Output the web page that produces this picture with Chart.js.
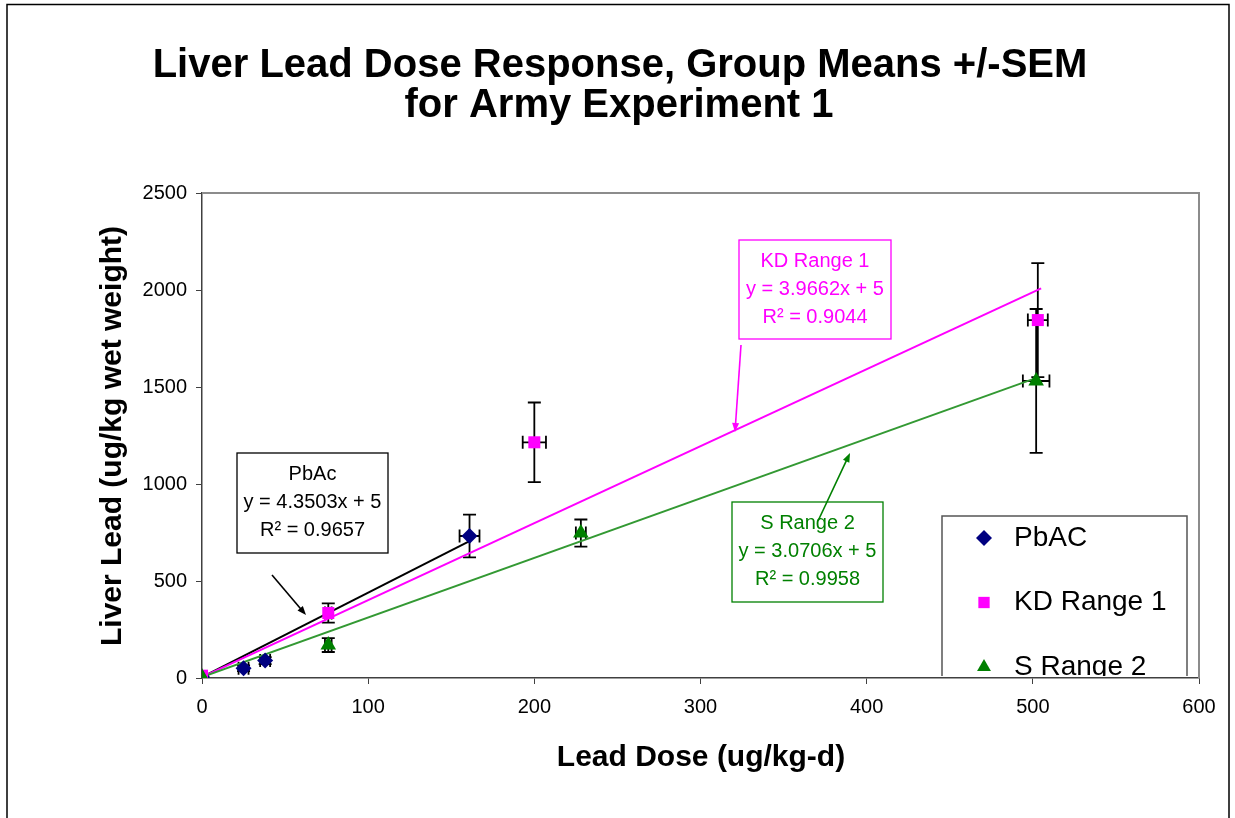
<!DOCTYPE html>
<html>
<head>
<meta charset="utf-8">
<title>Liver Lead Dose Response</title>
<script src="https://cdn.jsdelivr.net/npm/chart.js"></script>
<style>
body{margin:0;background:#fff}
#wrap{width:1235px;height:818px;position:relative}
</style>
</head>
<body>
<div id="wrap"><canvas id="doseChart"></canvas></div>
<script>

const FONT = '"Liberation Sans", Arial, Helvetica, sans-serif'

// PbAC group means +/- SEM
const pbDose = [0, 25, 38, 161]
const pbLead = [5, 50, 90, 732]
const pbLeadSem = [3, 15, 18, 110]
const pbDoseSem = [0, 3, 3, 6]

// KD Range 1
const kdDose = [0, 76, 200, 503]
const kdLead = [12, 335, 1215, 1845]
const kdLeadSem = [5, 50, 205, 294]
const kdDoseSem = [0, 2, 7, 6]

// S Range 2
const sDose = [0, 76, 228, 502]
const sLead = [5, 170, 747, 1531]
const sLeadSem = [3, 36, 70, 371]
const sDoseSem = [0, 2, 3, 8]

// trendlines as printed on the chart
const fitNames = ["PbAc", "KD Range 1", "S Range 2"]
const fitSlope = [4.3503, 3.9662, 3.0706]
const fitIntercept = [5, 5, 5]
const fitR2 = ["0.9657", "0.9044", "0.9958"]
const fitStart = [0, 0, 0]
const fitEnd = [161, 505, 503]

const xTicks = [0, 100, 200, 300, 400, 500, 600]
const yTicks = [0, 500, 1000, 1500, 2000, 2500]

const seriesNames = ["PbAC", "KD Range 1", "S Range 2"]


const groups = [
  {dose: pbDose, lead: pbLead, leadSem: pbLeadSem, doseSem: pbDoseSem},
  {dose: kdDose, lead: kdLead, leadSem: kdLeadSem, doseSem: kdDoseSem},
  {dose: sDose, lead: sLead, leadSem: sLeadSem, doseSem: sDoseSem}
]

const markerColor = ["#000080", "#ff00ff", "#008000"]
const markerStyle = ["rectRot", "rect", "triangle"]
const markerRadius = [8, 8.5, 9]
const lineColor = ["#000000", "#ff00ff", "#339933"]
const textColor = ["#000000", "#ff00ff", "#008000"]
const arrowColor = ["#000000", "#ff00ff", "#008000"]

// text boxes with their arrows (canvas pixels)
const boxes = [
  {x: 237, y: 453, w: 151, h: 100, from: [272, 575], to: [306, 615]},
  {x: 739, y: 240, w: 152, h: 99, from: [741, 345], to: [735, 432]},
  {x: 732, y: 502, w: 151, h: 100, from: [818, 521], to: [850, 453]}
]


const datasets = []

// later series sit on top of earlier ones, all markers above the fit lines
groups.forEach((g, i) => {
  datasets.push({
    label: seriesNames[i],
    data: g.dose.map((d, j) => ({x: d, y: g.lead[j]})),
    showLine: false,
    pointStyle: markerStyle[i],
    pointRadius: markerRadius[i],
    pointBackgroundColor: markerColor[i],
    pointBorderColor: markerColor[i],
    pointBorderWidth: 0,
    order: 3 - i,
    isSeries: true
  })
})

fitSlope.forEach((m, i) => {
  datasets.push({
    label: fitNames[i] + " fit",
    data: [fitStart[i], fitEnd[i]].map(d => ({x: d, y: m * d + fitIntercept[i]})),
    showLine: true,
    borderColor: lineColor[i],
    borderWidth: 2,
    pointRadius: 0,
    order: 6 - i
  })
})


function arrow(ctx, from, to, color){
  const ang = Math.atan2(to[1] - from[1], to[0] - from[0])
  ctx.strokeStyle = color
  ctx.fillStyle = color
  ctx.lineWidth = 1.6
  ctx.beginPath()
  ctx.moveTo(from[0], from[1])
  ctx.lineTo(to[0] - 6 * Math.cos(ang), to[1] - 6 * Math.sin(ang))
  ctx.stroke()
  ctx.beginPath()
  ctx.moveTo(to[0], to[1])
  ctx.lineTo(to[0] - 9 * Math.cos(ang) + 3.5 * Math.sin(ang), to[1] - 9 * Math.sin(ang) - 3.5 * Math.cos(ang))
  ctx.lineTo(to[0] - 9 * Math.cos(ang) - 3.5 * Math.sin(ang), to[1] - 9 * Math.sin(ang) + 3.5 * Math.cos(ang))
  ctx.closePath()
  ctx.fill()
}


const errorBars = {
  id: "errorBars",
  beforeDatasetsDraw(chart){
    const {ctx, chartArea: a, scales: {x, y}} = chart

    ctx.save()

    // plot area frame, top and right
    ctx.strokeStyle = "#8c8c8c"
    ctx.lineWidth = 2
    ctx.beginPath()
    ctx.moveTo(a.left, a.top)
    ctx.lineTo(a.right, a.top)
    ctx.lineTo(a.right, a.bottom)
    ctx.stroke()

    ctx.beginPath()
    ctx.rect(a.left, a.top - 1, a.width + 1, a.height + 1)
    ctx.clip()

    ctx.strokeStyle = "#000"
    ctx.lineWidth = 1.8
    const cap = 6.5

    groups.forEach(g => {
      g.dose.forEach((d, j) => {
        const px = x.getPixelForValue(d)
        const py = y.getPixelForValue(g.lead[j])
        if (g.leadSem[j]) {
          const t = y.getPixelForValue(g.lead[j] + g.leadSem[j])
          const b = y.getPixelForValue(g.lead[j] - g.leadSem[j])
          ctx.beginPath()
          ctx.moveTo(px, t); ctx.lineTo(px, b)
          ctx.moveTo(px - cap, t); ctx.lineTo(px + cap, t)
          ctx.moveTo(px - cap, b); ctx.lineTo(px + cap, b)
          ctx.stroke()
        }
        if (g.doseSem[j]) {
          const l = x.getPixelForValue(d - g.doseSem[j])
          const r = x.getPixelForValue(d + g.doseSem[j])
          ctx.beginPath()
          ctx.moveTo(l, py); ctx.lineTo(r, py)
          ctx.moveTo(l, py - cap); ctx.lineTo(l, py + cap)
          ctx.moveTo(r, py - cap); ctx.lineTo(r, py + cap)
          ctx.stroke()
        }
      })
    })

    ctx.restore()
  },

  afterDatasetsDraw(chart){
    const {ctx, chartArea: a} = chart

    ctx.save()

    // fit boxes
    boxes.forEach((bx, i) => {
      ctx.fillStyle = "#fff"
      ctx.fillRect(bx.x, bx.y, bx.w, bx.h)
      ctx.strokeStyle = i == 0 ? "#000" : textColor[i]
      ctx.lineWidth = 1.3
      ctx.strokeRect(bx.x, bx.y, bx.w, bx.h)

      ctx.fillStyle = textColor[i]
      ctx.font = "20px " + FONT
      ctx.textAlign = "center"
      ctx.textBaseline = "middle"
      const cx = bx.x + bx.w / 2
      const lines = [
        fitNames[i],
        "y = " + fitSlope[i].toFixed(4) + "x + " + fitIntercept[i],
        "R\u00b2 = " + fitR2[i]
      ]
      lines.forEach((t, k) => ctx.fillText(t, cx, bx.y + 21 + k * 28))

      arrow(ctx, bx.from, bx.to, arrowColor[i])
    })

    // legend, cut off by the bottom of the plot area like the original
    ctx.beginPath()
    ctx.rect(a.left, a.top, a.width, a.height - 2)
    ctx.clip()

    ctx.fillStyle = "#fff"
    ctx.fillRect(942, 516, 245, 170)
    ctx.strokeStyle = "#555"
    ctx.lineWidth = 1.5
    ctx.strokeRect(942, 516, 245, 170)

    const series = chart.data.datasets.filter(d => d.isSeries)
    series.forEach((d, i) => {
      const ly = 538 + i * 64.5
      ctx.fillStyle = d.pointBackgroundColor
      Chart.helpers.drawPoint(ctx, {pointStyle: d.pointStyle, radius: Math.min(d.pointRadius, 8), rotation: 0, borderWidth: 0}, 984, ly)
      ctx.fillStyle = "#000"
      ctx.font = "28px " + FONT
      ctx.textAlign = "left"
      ctx.textBaseline = "middle"
      ctx.fillText(d.label, 1014, ly)
    })

    ctx.restore()
  },

  afterDraw(chart){
    const ctx = chart.ctx
    ctx.save()

    // outer chart frame
    ctx.strokeStyle = "#000"
    ctx.lineWidth = 1.5
    ctx.beginPath()
    ctx.moveTo(7, 818)
    ctx.lineTo(7, 4.5)
    ctx.lineTo(1229, 4.5)
    ctx.lineTo(1229, 818)
    ctx.stroke()

    ctx.fillStyle = "#000"
    ctx.textAlign = "center"
    ctx.textBaseline = "middle"

    ctx.font = "bold 40px " + FONT
    ctx.fillText("Liver Lead Dose Response, Group Means +/-SEM", 620, 66)
    ctx.fillText("for Army Experiment 1", 619, 106)

    ctx.font = "bold 30px " + FONT
    ctx.fillText("Lead Dose (ug/kg-d)", 701, 758)

    ctx.translate(113, 436)
    ctx.rotate(-Math.PI / 2)
    ctx.fillText("Liver Lead (ug/kg wet weight)", 0, 0)

    ctx.restore()
  }
}


new Chart(document.getElementById("doseChart"), {

  type: "scatter",

  data: {datasets: datasets},

  options: {
    responsive: true,
    maintainAspectRatio: false,
    animation: false,
    layout: {padding: {top: 193, right: 36, left: 0, bottom: 0}},
    plugins: {
      legend: {display: false},
      tooltip: {enabled: false}
    },
    scales: {
      x: {
        type: "linear",
        min: 0,
        max: 600,
        afterBuildTicks: s => { s.ticks = xTicks.map(v => ({value: v})) },
        afterFit: s => { s.height = 140 },
        grid: {drawOnChartArea: false, tickLength: 6, color: "#404040"},
        border: {color: "#404040", width: 1.5},
        ticks: {font: {family: FONT, size: 20}, color: "#000", padding: 11, maxRotation: 0, callback: v => String(v)}
      },
      y: {
        type: "linear",
        min: 0,
        max: 2500,
        afterBuildTicks: s => { s.ticks = yTicks.map(v => ({value: v})) },
        afterFit: s => { s.width = 202 },
        grid: {drawOnChartArea: false, tickLength: 6, color: "#404040"},
        border: {color: "#404040", width: 1.5},
        ticks: {font: {family: FONT, size: 20}, color: "#000", padding: 9, callback: v => String(v)}
      }
    }
  },

  plugins: [errorBars]

})

</script>
</body>
</html>
